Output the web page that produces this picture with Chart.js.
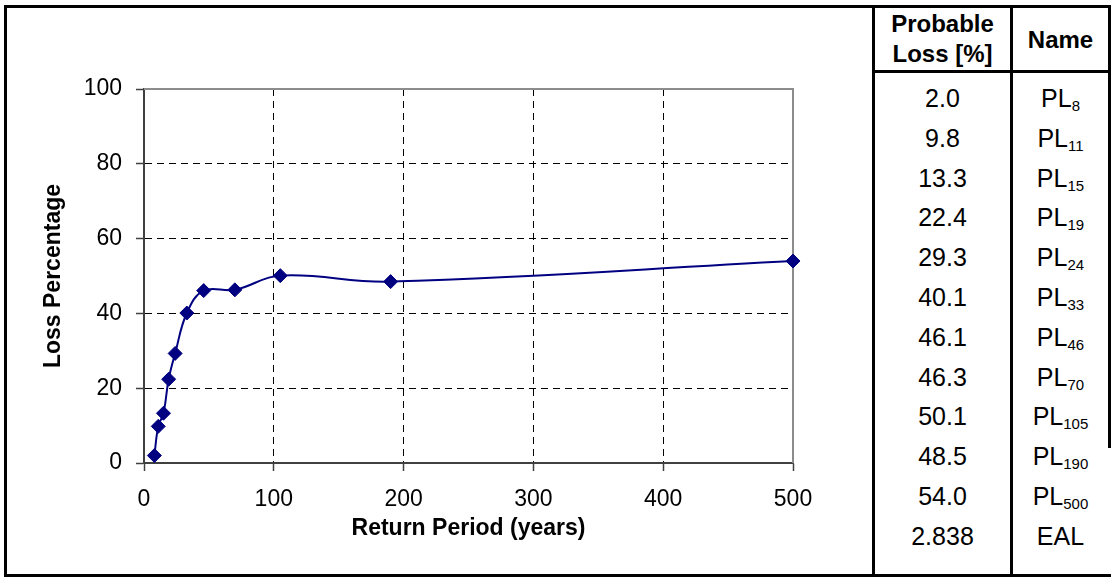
<!DOCTYPE html>
<html>
<head>
<meta charset="utf-8">
<script src="https://cdn.jsdelivr.net/npm/chart.js@4.4.0/dist/chart.umd.min.js"></script>
<style>
  body {
    margin: 0;
    width: 1113px;
    height: 577px;
    position: relative;
    overflow: hidden;
    background: #fff;
    font-family: "Liberation Sans", Arial, sans-serif;
    color: #000;
  }
  .ln { position: absolute; background: #000; }
  #chartBox { position: absolute; left: 7px; top: 8px; width: 865px; height: 566px; }
  .cell {
    position: absolute;
    line-height: 1;
    white-space: nowrap;
    text-align: center;
    transform: translate(-50%, -50%);
  }
  .head { font-weight: bold; font-size: 24px; }
  .val { font-size: 25px; }
  .sub { font-size: 15px; position: relative; top: 4px; }
</style>
</head>
<body>
<!-- frame lines -->
<div class="ln" style="left:4px; top:5px; width:1107px; height:3px;"></div>
<div class="ln" style="left:4px; top:574px; width:1107px; height:3px;"></div>
<div class="ln" style="left:4px; top:5px; width:3px; height:572px;"></div>
<div class="ln" style="left:872px; top:5px; width:3px; height:572px;"></div>
<div class="ln" style="left:1010px; top:5px; width:3px; height:572px;"></div>
<div class="ln" style="left:1108px; top:5px; width:3px; height:443px;"></div>
<div class="ln" style="left:872px; top:70px; width:239px; height:3px;"></div>

<div id="chartBox"><canvas id="lossChart" width="865" height="566"></canvas></div>
<div id="table"></div>

<script>
const returnPeriods = [8, 11, 15, 19, 24, 33, 46, 70, 105, 190, 500];
const probableLoss = [2.0, 9.8, 13.3, 22.4, 29.3, 40.1, 46.1, 46.3, 50.1, 48.5, 54.0];
const ealValue = '2.838';
const ealName = 'EAL';

const xTickValues = [0, 100, 200, 300, 400, 500];
const yTickValues = [0, 20, 40, 60, 80, 100];

const FONT = '"Liberation Sans", Arial, sans-serif';

// Build the table on the right
function buildTable() {
  const table = document.getElementById('table');
  const colValX = 942.5;
  const colNameX = 1060.5;

  const addCell = (x, y, cls, html) => {
    const el = document.createElement('div');
    el.className = 'cell ' + cls;
    el.style.left = x + 'px';
    el.style.top = y + 'px';
    el.innerHTML = html;
    table.appendChild(el);
  };

  addCell(colValX, 24, 'head', 'Probable');
  addCell(colValX, 54, 'head', 'Loss [%]');
  addCell(colNameX, 40, 'head', 'Name');

  const rowTop = 98;
  const rowStep = 39.8;
  returnPeriods.forEach((rp, i) => {
    const y = rowTop + i * rowStep;
    addCell(colValX, y, 'val', probableLoss[i].toFixed(1));
    addCell(colNameX, y, 'val', 'PL<span class="sub">' + rp + '</span>');
  });
  const lastY = rowTop + returnPeriods.length * rowStep;
  addCell(colValX, lastY, 'val', ealValue);
  addCell(colNameX, lastY, 'val', ealName);
}

// Gray plot border on top and right, like the spreadsheet chart
const plotFrame = {
  id: 'plotFrame',
  beforeDatasetsDraw(chart) {
    const { ctx, chartArea: a } = chart;
    ctx.save();
    ctx.strokeStyle = '#8c8c8c';
    ctx.lineWidth = 2;
    ctx.beginPath();
    ctx.moveTo(a.left, a.top);
    ctx.lineTo(a.right, a.top);
    ctx.lineTo(a.right, a.bottom);
    ctx.stroke();
    ctx.restore();
  }
};

function renderChart() {
  const ctx = document.getElementById('lossChart');
  new Chart(ctx, {
    type: 'line',
    data: {
      datasets: [{
        data: returnPeriods.map((rp, i) => ({ x: rp, y: probableLoss[i] })),
        borderColor: '#000080',
        backgroundColor: '#000080',
        borderWidth: 2,
        pointStyle: 'rectRot',
        pointRadius: 7,
        pointBorderWidth: 1,
        tension: 0.4,
        clip: false
      }]
    },
    options: {
      responsive: false,
      animation: false,
      devicePixelRatio: 1,
      layout: { padding: { left: 30, top: 81, right: 79, bottom: 32 } },
      plugins: {
        legend: { display: false },
        tooltip: { enabled: false }
      },
      scales: {
        x: {
          type: 'linear',
          min: 0,
          max: 500,
          afterBuildTicks: s => { s.ticks = xTickValues.map(v => ({ value: v })); },
          afterFit: s => { s.height = 79; },
          grid: {
            color: c => (c.tick && c.tick.value === 500) ? 'rgba(0,0,0,0)' : '#000',
            lineWidth: 1,
            tickLength: 8,
            tickColor: '#404040',
            tickWidth: 1.5,
            tickBorderDash: []
          },
          border: { color: '#404040', width: 2, dash: [7, 5] },
          ticks: {
            color: '#000',
            font: { family: FONT, size: 23 },
            padding: 15,
            maxRotation: 0,
            autoSkip: false
          },
          title: {
            display: true,
            text: 'Return Period (years)',
            color: '#000',
            font: { family: FONT, size: 23, weight: 'bold' },
            padding: { top: 0, bottom: 0 }
          }
        },
        y: {
          type: 'linear',
          min: 0,
          max: 100,
          afterBuildTicks: s => { s.ticks = yTickValues.map(v => ({ value: v })); },
          afterFit: s => { s.width = 107; },
          grid: {
            color: c => (c.tick && c.tick.value === 100) ? 'rgba(0,0,0,0)' : '#000',
            lineWidth: 1,
            tickLength: 8,
            tickColor: '#404040',
            tickWidth: 1.5,
            tickBorderDash: []
          },
          border: { color: '#404040', width: 2, dash: [7, 5] },
          ticks: {
            color: '#000',
            font: { family: FONT, size: 23 },
            padding: 14,
            autoSkip: false
          },
          title: {
            display: true,
            text: 'Loss Percentage',
            color: '#000',
            font: { family: FONT, size: 23, weight: 'bold' },
            padding: { top: 3, bottom: 0 }
          }
        }
      }
    },
    plugins: [plotFrame]
  });
}

buildTable();
renderChart();
</script>
</body>
</html>
